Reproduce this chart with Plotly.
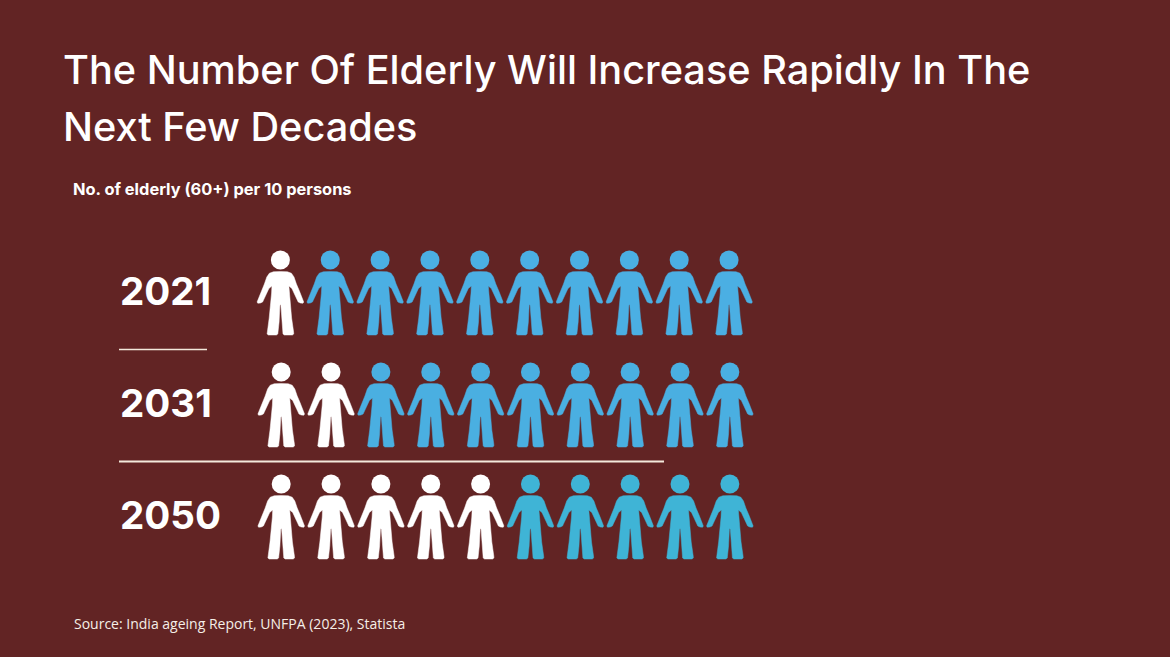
import plotly.graph_objects as go

years = ['2021', '2031', '2050']
elderly_per_10 = [1, 2, 5]
persons_per_row = 10

title_lines = ['The Number Of Elderly Will Increase Rapidly In The', 'Next Few Decades']
subtitle = 'No. of elderly (60+) per 10 persons'
source = 'Source: India ageing Report, UNFPA (2023), Statista'

BG = '#622424'
WHITE = '#ffffff'
BLUES = ['#4bafe3', '#4aafe1', '#3fb4d6']
RULE = '#f3e9dc'

W, H = 1170, 657
COL_PX = 49.85  # pixels between two persons
ROW_PX = 112    # pixels between two rows
X0 = 280.4      # pixel of the first person
Y0 = 260        # pixel of the first row (head centre)

# half a body, px offsets from the head centre, mirrored below
half_body = [
    (0, 11.6), (-7, 11.8), (-11, 13.2), (-13.6, 17), (-16, 24), (-19, 31), (-22.4, 39.5),
    (-23.3, 42), (-22.6, 43.2), (-20, 43), (-17.8, 42), (-15, 36.5), (-11.5, 28.5), (-8.5, 26),
    (-8.8, 33), (-11.2, 58), (-13.2, 72), (-13.3, 74), (-12, 75), (-4, 75), (-2.6, 74),
    (-1.3, 62), (-0.5, 45.5), (0, 44.5),
]
outline = half_body + [(-x, y) for x, y in reversed(half_body[:-1])]


def person_xy(col, row):
    xs = [col + dx / COL_PX for dx, dy in outline] + [None]
    ys = [row + dy / ROW_PX for dx, dy in outline] + [None]
    return xs, ys


fig = go.Figure()

for row, year in enumerate(years):
    shift = 0 if row == 0 else 0.8 / COL_PX
    for is_elderly in [True, False]:
        cols = [c for c in range(persons_per_row) if (c < elderly_per_10[row]) == is_elderly]
        color = WHITE if is_elderly else BLUES[row]
        xs, ys = [], []
        for c in cols:
            px, py = person_xy(c + shift, row)
            xs += px
            ys += py
        fig.add_trace(go.Scatter(x=xs, y=ys, mode='lines', fill='toself', fillcolor=color,
                                 line=dict(color=color, width=0.5), hoverinfo='skip',
                                 name=year, showlegend=False))
        # heads
        fig.add_trace(go.Scatter(x=[c + shift for c in cols], y=[row] * len(cols), mode='markers',
                                 marker=dict(color=color, size=19, line=dict(width=0)),
                                 hoverinfo='skip', showlegend=False))

    fig.add_annotation(x=118 / W, y=row + 31 / ROW_PX, xref='paper', yref='y', text=f'<b>{year}</b>',
                       showarrow=False, xanchor='left', yanchor='middle',
                       font=dict(family='Inter', size=38.6, color=WHITE))

fig.add_annotation(x=61 / W, y=1 - 70 / H, xref='paper', yref='paper', text=title_lines[0], showarrow=False,
                   xanchor='left', yanchor='middle', font=dict(family='Inter', size=39.7, color=WHITE, weight=500))
fig.add_annotation(x=61 / W, y=1 - 127 / H, xref='paper', yref='paper', text=title_lines[1], showarrow=False,
                   xanchor='left', yanchor='middle', font=dict(family='Inter', size=39.7, color=WHITE, weight=500))
fig.add_annotation(x=71 / W, y=1 - 189 / H, xref='paper', yref='paper', text=f'<b>{subtitle}</b>', showarrow=False,
                   xanchor='left', yanchor='middle', font=dict(family='Inter', size=16.4, color=WHITE))
fig.add_annotation(x=72 / W, y=1 - 623 / H, xref='paper', yref='paper', text=source, showarrow=False,
                   xanchor='left', yanchor='middle', font=dict(family='Open Sans', size=14, color='#f5efe8'))

fig.add_shape(type='line', xref='paper', yref='paper', x0=119 / W, x1=207 / W, y0=1 - 349.5 / H, y1=1 - 349.5 / H,
              line=dict(color=RULE, width=1.5))
fig.add_shape(type='line', xref='paper', yref='paper', x0=119 / W, x1=664 / W, y0=1 - 461.5 / H, y1=1 - 461.5 / H,
              line=dict(color=RULE, width=2))

fig.update_xaxes(visible=False, range=[-X0 / COL_PX, (W - X0) / COL_PX])
fig.update_yaxes(visible=False, range=[(H - Y0) / ROW_PX, -Y0 / ROW_PX])
fig.update_layout(width=W, height=H, margin=dict(l=0, r=0, t=0, b=0), paper_bgcolor=BG, plot_bgcolor=BG,
                  showlegend=False)

fig.write_html('out.html', config={'displayModeBar': False},
               post_script="document.body.style.margin='0';document.body.style.background='#622424';")
